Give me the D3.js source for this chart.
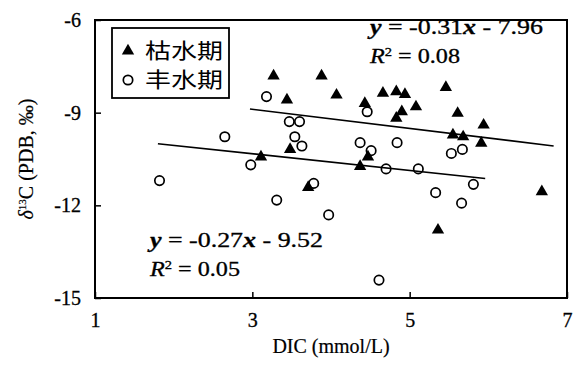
<!DOCTYPE html>
<html>
<head>
<meta charset="utf-8">
<script src="https://cdn.jsdelivr.net/npm/d3@7"></script>
<style>
  body { margin: 0; background: #fff; }
  svg { display: block; }
</style>
</head>
<body>
<div id="chart"></div>
<script>
// data
const dryX = [3.27, 3.88, 4.07, 3.44, 3.48, 3.11, 3.71, 4.37, 4.47, 4.43, 4.66, 4.83,
              4.94, 5.08, 4.90, 4.83, 5.46, 5.61, 5.94, 5.55, 5.68, 5.91, 5.36, 6.68];
const dryY = [-7.81, -7.81, -8.43, -8.59, -10.19, -10.43, -11.42, -10.74, -10.43, -8.70, -8.37, -8.32,
              -8.41, -8.81, -8.97, -9.18, -8.18, -9.02, -9.40, -9.72, -9.78, -9.99, -12.80, -11.56];
const wetX = [1.82, 2.65, 2.98, 3.18, 3.47, 3.60, 3.54, 3.63, 3.31, 3.78, 3.97, 4.37,
              4.46, 4.51, 4.84, 4.70, 5.11, 5.53, 5.67, 5.33, 5.81, 5.66, 4.61];
const wetY = [-11.20, -9.78, -10.69, -8.48, -9.29, -9.29, -9.78, -10.08, -11.83, -11.29, -12.31, -9.97,
              -8.97, -10.23, -9.97, -10.82, -10.82, -10.32, -10.19, -11.59, -11.32, -11.93, -14.42];
// trend lines: slope, intercept, x extent
const dryFit = [-0.31, -7.96];
const dryFitX = [2.97, 6.83];
const wetFit = [-0.27, -9.52];
const wetFitX = [1.80, 5.96];

const xTicks = [1, 3, 5, 7];
const yTicks = [-15, -12, -9, -6];
const legendNames = ['枯水期', '丰水期'];

const width = 576, height = 367;
const margin = {left: 95, top: 20, right: 9, bottom: 69};

const svg = d3.select('#chart').append('svg')
  .attr('width', width)
  .attr('height', height);

const x = d3.scaleLinear().domain([1, 7]).range([margin.left, width - margin.right]);
const y = d3.scaleLinear().domain([-15, -6]).range([height - margin.bottom, margin.top]);

const serif = '"Liberation Serif", "Times New Roman", serif';

// axes, ticks pointing inward
const xAxis = svg.append('g')
  .attr('transform', 'translate(0,' + y(-15) + ')')
  .call(d3.axisBottom(x).tickValues(xTicks).tickSize(-6).tickPadding(12).tickFormat(d => String(d)));
const yAxis = svg.append('g')
  .attr('transform', 'translate(' + x(1) + ',0)')
  .call(d3.axisLeft(y).tickValues(yTicks).tickSize(-6).tickPadding(14).tickFormat(d => String(d)));

[xAxis, yAxis].forEach(function(a) {
  a.select('.domain').remove();
  a.selectAll('line').attr('stroke', '#000').attr('stroke-width', 1.5);
  a.selectAll('text').style('font-family', serif).style('font-size', '20px')
    .attr('fill', '#000').attr('stroke', '#000').attr('stroke-width', 0.3);
});
xAxis.selectAll('text').attr('dy', '0.85em');

// frame
svg.append('rect')
  .attr('x', x(1)).attr('y', y(-6))
  .attr('width', x(7) - x(1)).attr('height', y(-15) - y(-6))
  .attr('fill', 'none').attr('stroke', '#000').attr('stroke-width', 2);

// trend lines
function fitLine(fit, ext) {
  svg.append('line')
    .attr('x1', x(ext[0])).attr('y1', y(fit[0] * ext[0] + fit[1]))
    .attr('x2', x(ext[1])).attr('y2', y(fit[0] * ext[1] + fit[1]))
    .attr('stroke', '#000').attr('stroke-width', 1.6);
}
fitLine(dryFit, dryFitX);
fitLine(wetFit, wetFitX);

const tri = d3.symbol().type(d3.symbolTriangle).size(66);

// wet season: open circles
svg.append('g').selectAll('circle')
  .data(d3.zip(wetX, wetY))
  .join('circle')
  .attr('cx', d => x(d[0])).attr('cy', d => y(d[1]))
  .attr('r', 4.7)
  .attr('fill', 'none').attr('stroke', '#000').attr('stroke-width', 1.7);

// dry season: filled triangles
svg.append('g').selectAll('path')
  .data(d3.zip(dryX, dryY))
  .join('path')
  .attr('d', tri)
  .attr('transform', d => 'translate(' + x(d[0]) + ',' + y(d[1]) + ')')
  .attr('fill', '#000');

// legend
const leg = svg.append('g');
leg.append('rect')
  .attr('x', 112).attr('y', 28).attr('width', 117).attr('height', 70)
  .attr('fill', '#fff').attr('stroke', '#000').attr('stroke-width', 1.8);
leg.append('path').attr('d', tri).attr('transform', 'translate(128,51)').attr('fill', '#000');
leg.append('circle').attr('cx', 128).attr('cy', 80).attr('r', 4.7)
  .attr('fill', 'none').attr('stroke', '#000').attr('stroke-width', 1.7);
leg.selectAll('text.lg')
  .data(legendNames)
  .join('text')
  .attr('class', 'lg')
  .attr('x', 145)
  .attr('y', (d, i) => 58 + i * 29)
  .attr('textLength', 78).attr('lengthAdjust', 'spacingAndGlyphs')
  .style('font-family', '"Noto Sans CJK SC", sans-serif')
  .style('font-size', '21px')
  .text(d => d);

// equations
function equation(xp, yp, slope, icpt, r2) {
  const t1 = svg.append('text')
    .attr('x', xp).attr('y', yp)
    .attr('textLength', 173).attr('lengthAdjust', 'spacingAndGlyphs')
    .attr('stroke', '#000').attr('stroke-width', 0.3)
    .style('font-family', serif).style('font-size', '20px');
  t1.append('tspan').style('font-style', 'italic').style('font-weight', 'bold').text('y');
  t1.append('tspan').text(' = ' + slope.toFixed(2));
  t1.append('tspan').style('font-style', 'italic').style('font-weight', 'bold').text('x');
  t1.append('tspan').text(' - ' + Math.abs(icpt).toFixed(2));

  const t2 = svg.append('text')
    .attr('x', xp).attr('y', yp + 29)
    .attr('textLength', 90).attr('lengthAdjust', 'spacingAndGlyphs')
    .attr('stroke', '#000').attr('stroke-width', 0.3)
    .style('font-family', serif).style('font-size', '20px');
  t2.append('tspan').style('font-style', 'italic').text('R');
  t2.append('tspan').attr('dy', -7).style('font-size', '12px').text('2');
  t2.append('tspan').attr('dy', 7).text(' = ' + r2.toFixed(2));
}
equation(370, 34, dryFit[0], dryFit[1], 0.08);
equation(150, 247, wetFit[0], wetFit[1], 0.05);

// axis titles
svg.append('text')
  .attr('x', x(4)).attr('y', 353)
  .attr('text-anchor', 'middle')
  .attr('stroke', '#000').attr('stroke-width', 0.2)
  .style('font-family', serif).style('font-size', '20px')
  .text('DIC (mmol/L)');

const yl = svg.append('text')
  .attr('transform', 'translate(33,' + y(-10.5) + ') rotate(-90)')
  .attr('text-anchor', 'middle')
  .attr('stroke', '#000').attr('stroke-width', 0.2)
  .style('font-family', serif).style('font-size', '20px');
yl.append('tspan').style('font-style', 'italic').text('δ');
yl.append('tspan').attr('dy', -7).style('font-size', '11px').text('13');
yl.append('tspan').attr('dy', 7).text('C (PDB, ‰)');
</script>
</body>
</html>
